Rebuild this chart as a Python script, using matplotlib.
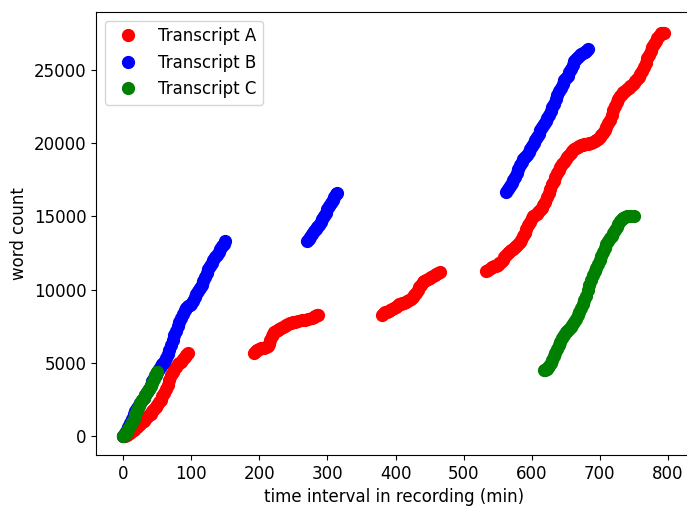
import matplotlib
matplotlib.use("Agg")
import matplotlib.pyplot as plt

# ---- Transcript A (red), four recorded stretches ----
a1_t = [0, 2.5, 5, 7.5, 10, 12.5, 15, 17.5, 20, 22.5, 25, 27.5, 30, 32.5, 35, 37.5, 40, 42.5, 45, 47.5,
        50, 52.5, 55, 57.5, 60, 62.5, 65, 67.5, 70, 72.5, 75, 77.5, 80, 82.5, 85, 87.5, 90, 92.5, 95]
a1_w = [0, 30, 80, 160, 250, 350, 450, 550, 650, 750, 850, 950, 1050, 1170, 1300, 1420, 1550, 1700, 1850, 2000,
        2150, 2320, 2500, 2720, 2950, 3200, 3500, 3820, 4150, 4400, 4600, 4750, 4900, 5000, 5100, 5250, 5400, 5530, 5650]

a2_t = [192, 194.5, 197, 199.5, 202, 204.5, 207, 209.5, 212, 214, 216, 218, 220, 222, 224.5, 227, 229.5, 232, 234.5,
        237, 239.5, 242, 244.5, 247, 249.5, 252, 257, 262, 267, 272, 277, 279.5, 282, 284, 286]
a2_w = [5700, 5800, 5900, 5950, 6000, 6030, 6050, 6100, 6150, 6300, 6550, 6850, 7000, 7100, 7180, 7250, 7320, 7400, 7480,
        7550, 7600, 7650, 7700, 7750, 7780, 7800, 7850, 7900, 7950, 7980, 8050, 8120, 8200, 8250, 8300]

a3_t = [380, 382.5, 385, 387.5, 390, 392.5, 395, 397.5, 400, 402.5, 405, 407.5, 410, 412.5, 415, 417.5, 420, 422.5,
        425, 427.5, 430, 432.5, 435, 437.5, 440, 442.5, 445, 447.5, 450, 452.5, 455, 457.5, 460, 462.5, 465]
a3_w = [8300, 8380, 8450, 8500, 8550, 8600, 8650, 8720, 8800, 8900, 9000, 9050, 9100, 9120, 9150, 9220, 9300, 9400,
        9500, 9650, 9800, 10000, 10200, 10350, 10500, 10580, 10650, 10720, 10800, 10880, 10950, 11020, 11100, 11150, 11200]

a4_t = [533, 536.5, 540, 542.5, 545, 547.5, 550, 552.5, 555, 557.5, 560, 562.5, 565, 567.5, 570, 572.5, 575, 577.5,
        580, 582.5, 585, 587.5, 590, 592.5, 595, 597.5, 600, 602.5, 605, 607.5, 610, 612.5, 615, 617.5, 620,
        622.5, 625, 627.5, 630, 632.5, 635, 637.5, 640, 642.5, 645, 647.5, 650, 652.5, 655, 657.5, 660, 662.5,
        665, 667.5, 670, 672.5, 675, 677.5, 680, 682.5, 685, 687.5, 690, 692.5, 695, 697.5, 700, 702.5, 705,
        707.5, 710, 712.5, 715, 717.5, 720, 722.5, 725, 727.5, 730, 732.5, 735, 737.5, 740, 742.5, 745, 747.5,
        750, 752.5, 755, 757.5, 760, 762.5, 765, 767.5, 770, 772.5, 775, 777.5, 780, 782.5, 785, 787.5, 790,
        792.5, 795]
a4_w = [11250, 11380, 11500, 11550, 11600, 11650, 11700, 11800, 11900, 12050, 12200, 12350, 12500, 12600, 12700, 12800, 12900, 13000,
        13100, 13250, 13400, 13650, 13900, 14150, 14400, 14650, 14900, 15000, 15100, 15200, 15300, 15450, 15600, 15800, 16000,
        16300, 16600, 16900, 17200, 17450, 17700, 17950, 18200, 18400, 18600, 18750, 18900, 19050, 19200, 19350, 19500, 19600,
        19700, 19750, 19800, 19850, 19900, 19930, 19950, 19980, 20000, 20050, 20100, 20150, 20200, 20300, 20400, 20550, 20700,
        20900, 21100, 21350, 21600, 21950, 22300, 22550, 22800, 23000, 23200, 23350, 23500, 23600, 23700, 23800, 23900, 24000,
        24100, 24250, 24400, 24550, 24700, 24950, 25200, 25500, 25800, 26050, 26300, 26550, 26800, 27000, 27200, 27350, 27500,
        27530, 27550]

# ---- Transcript B (blue) ----
b1_t = [0, 2.5, 5, 7.5, 10, 12.5, 15, 17.5, 20, 22.5, 25, 27.5, 30, 32.5, 35, 37.5, 40, 42.5, 45, 47.5,
        50, 52.5, 55, 57.5, 60, 62.5, 65, 67.5, 70, 72.5, 75, 77.5, 80, 82.5, 85, 87.5, 90, 92.5, 95, 97.5,
        100, 102.5, 105, 107.5, 110, 112.5, 115, 117.5, 120, 122.5, 125, 127.5, 130, 132.5, 135, 137.5, 140,
        142.5, 145, 147.5, 150]
b1_w = [0, 200, 400, 650, 900, 1200, 1500, 1700, 1900, 2100, 2300, 2450, 2600, 2800, 3000, 3250, 3500, 3750, 4000, 4200,
        4400, 4600, 4800, 4950, 5100, 5350, 5600, 5900, 6200, 6550, 6900, 7200, 7500, 7800, 8100, 8350, 8600, 8780, 8900, 8950,
        9000, 9250, 9500, 9700, 9900, 10100, 10300, 10600, 10900, 11150, 11400, 11600, 11800, 12000, 12200, 12400, 12600,
        12800, 13000, 13150, 13300]

b2_t = [270, 272.5, 275, 277.5, 280, 282.5, 285, 287.5, 290, 292.5, 295, 297.5, 300, 302.5, 305, 307.5, 310, 312.5, 314]
b2_w = [13300, 13450, 13600, 13800, 14000, 14150, 14300, 14450, 14600, 14800, 15000, 15250, 15500, 15700, 15900, 16100,
        16300, 16550, 16600]

b3_t = [563, 565.5, 568, 570.5, 573, 575.5, 578, 580.5, 583, 585.5, 588, 590.5, 593, 595.5, 598, 600.5, 603, 605.5,
        608, 610.5, 613, 615.5, 618, 620.5, 623, 625.5, 628, 630.5, 633, 635.5, 638, 640.5, 643, 645.5, 648, 650.5,
        653, 655.5, 658, 660.5, 663, 665.5, 668, 670.5, 673, 675.5, 678, 680.5, 683]
b3_w = [16700, 16900, 17100, 17300, 17500, 17720, 17950, 18220, 18500, 18700, 18900, 19050, 19200, 19400, 19600, 19800,
        20000, 20200, 20400, 20650, 20900, 21100, 21300, 21500, 21700, 21950, 22200, 22450, 22700, 23000, 23300, 23550,
        23800, 24050, 24300, 24450, 24600, 24850, 25100, 25350, 25600, 25750, 25900, 26000, 26100, 26180, 26250, 26330, 26400]

# ---- Transcript C (green) ----
c1_t = [0, 2.5, 5, 7.5, 10, 12.5, 15, 17.5, 20, 22.5, 25, 27.5, 30, 32.5, 35, 37.5, 40, 42.5, 45, 47, 49, 50]
c1_w = [0, 150, 300, 500, 700, 950, 1200, 1500, 1800, 2050, 2300, 2450, 2600, 2800, 3000, 3200, 3400, 3650, 3900,
        4200, 4350, 4400]

c2_t = [618, 620, 622, 624, 626, 628, 630, 632.5, 635, 637.5, 640, 642.5, 645, 647.5, 650, 652.5, 655, 657.5, 660,
        662.5, 665, 667.5, 670, 672.5, 675, 677.5, 680, 682.5, 685, 687.5, 690, 692.5, 695, 697.5, 700, 702.5,
        705, 707.5, 710, 712.5, 715, 717.5, 720, 722.5, 725, 727.5, 730, 732.5, 735, 737.5, 740, 745, 750]
c2_w = [4500, 4550, 4600, 4700, 4800, 5000, 5200, 5450, 5700, 5950, 6200, 6450, 6700, 6900, 7100, 7200, 7300, 7450,
        7600, 7800, 8000, 8250, 8500, 8750, 9000, 9300, 9600, 9950, 10300, 10650, 11000, 11250, 11500, 11750, 12000,
        12300, 12600, 12850, 13100, 13300, 13500, 13700, 13900, 14100, 14300, 14500, 14700, 14800, 14900, 14970,
        15000, 15000, 15000]

a_t = a1_t + a2_t + a3_t + a4_t
a_w = a1_w + a2_w + a3_w + a4_w
b_t = b1_t + b2_t + b3_t
b_w = b1_w + b2_w + b3_w
c_t = c1_t + c2_t
c_w = c1_w + c2_w

plt.rcParams['font.size'] = 12

fig = plt.figure(figsize=(6.87, 5.08), dpi=100)
ax = fig.add_axes([96.3 / 687, 53 / 508, 595 / 687, 442.7 / 508])

ax.plot(a_t, a_w, 'o', color='red', markersize=8.5, label='Transcript A')
ax.plot(b_t, b_w, 'o', color='blue', markersize=8.5, label='Transcript B')
ax.plot(c_t, c_w, 'o', color='green', markersize=8.5, label='Transcript C')

ax.set_xlim(-39.75, 834.75)
ax.set_ylim(-1283, 28939)
ax.set_xticks([0, 100, 200, 300, 400, 500, 600, 700, 800])
ax.set_yticks([0, 5000, 10000, 15000, 20000, 25000])
ax.set_xlabel('time interval in recording (min)')
ax.set_ylabel('word count')
ax.legend(loc='upper left')

fig.savefig('out.png', dpi=100)
